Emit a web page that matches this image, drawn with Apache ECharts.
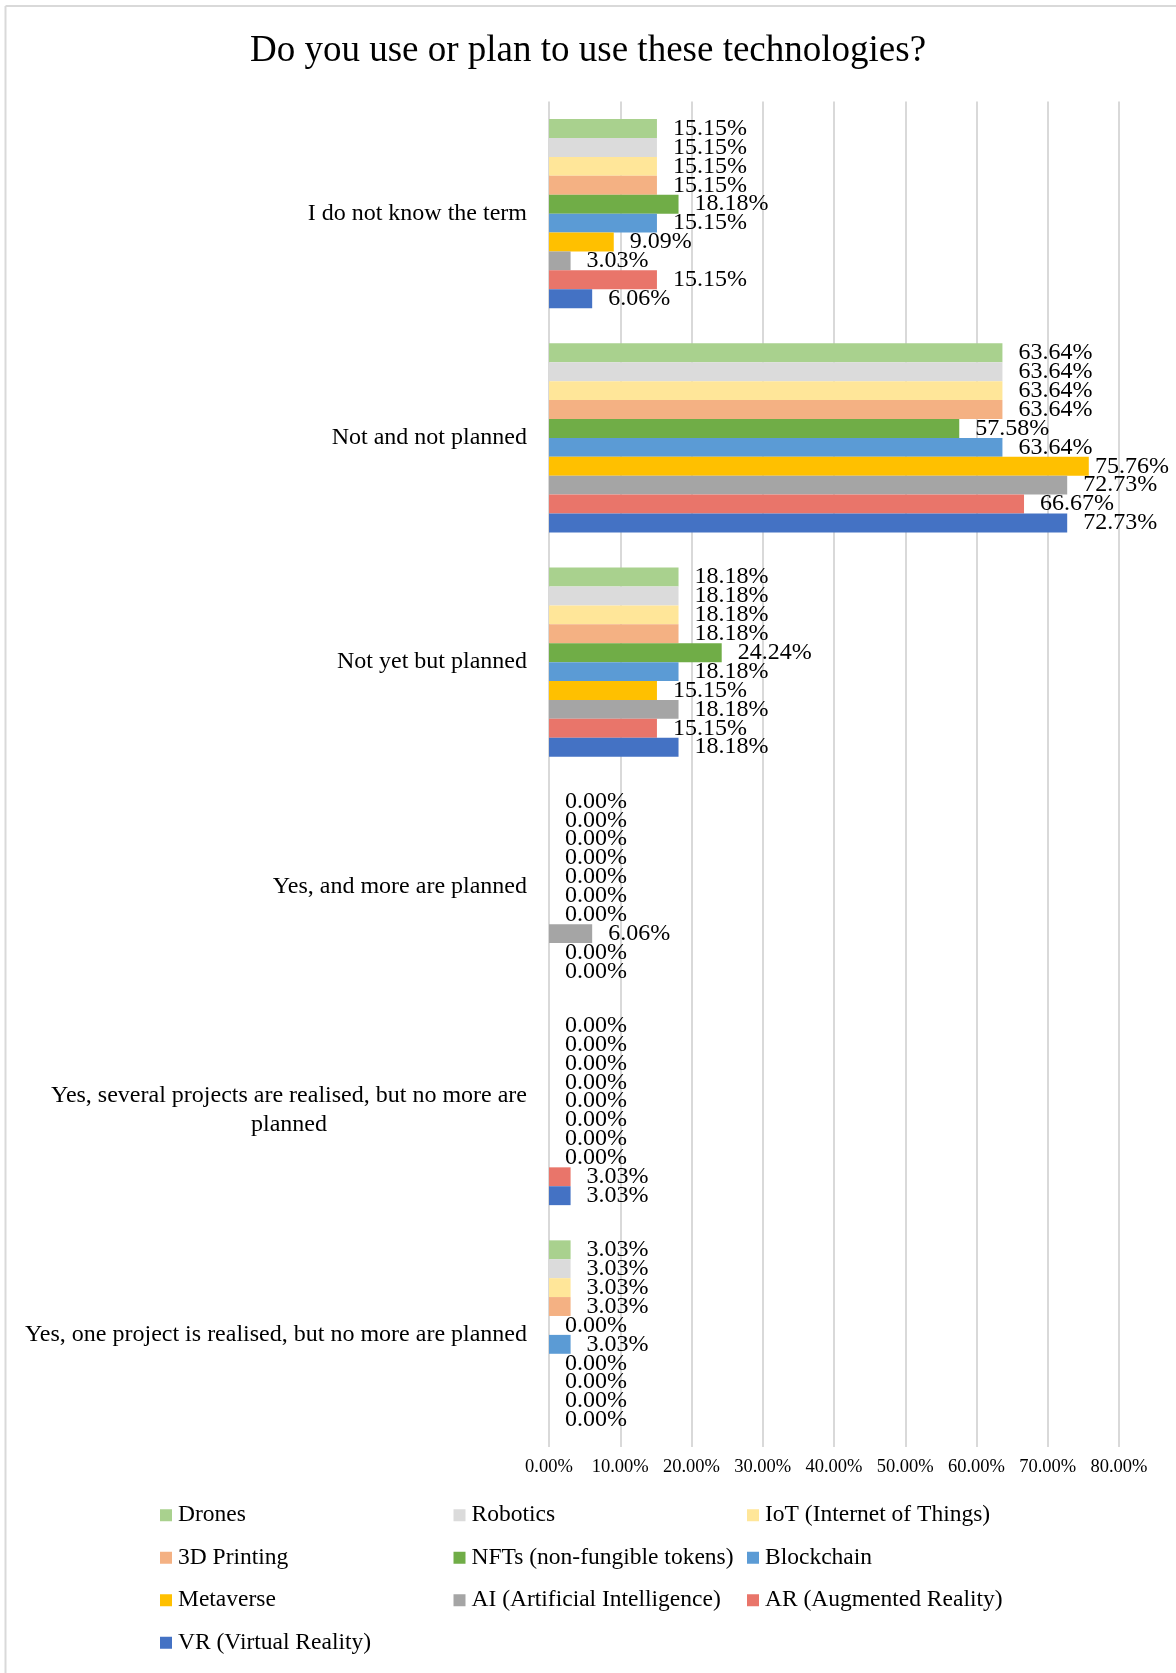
<!DOCTYPE html>
<html>
<head>
<meta charset="utf-8">
<script src="https://cdn.jsdelivr.net/npm/echarts@6/dist/echarts.min.js"></script>
<style>
  html, body { margin: 0; padding: 0; background: #fff; }
  #chart { width: 1176px; height: 1673px; }
</style>
</head>
<body>
<div id="chart"></div>
<script>
const categories = [
  'I do not know the term',
  'Not and not planned',
  'Not yet but planned',
  'Yes, and more are planned',
  'Yes, several projects are realised, but no more are planned',
  'Yes, one project is realised, but no more are planned'
];
const seriesNames = [
  'Drones', 'Robotics', 'IoT (Internet of Things)', '3D Printing',
  'NFTs (non-fungible tokens)', 'Blockchain', 'Metaverse',
  'AI (Artificial Intelligence)', 'AR (Augmented Reality)', 'VR (Virtual Reality)'
];
const drones     = [15.15, 63.64, 18.18, 0.00, 0.00, 3.03];
const robotics   = [15.15, 63.64, 18.18, 0.00, 0.00, 3.03];
const iot        = [15.15, 63.64, 18.18, 0.00, 0.00, 3.03];
const printing3d = [15.15, 63.64, 18.18, 0.00, 0.00, 3.03];
const nfts       = [18.18, 57.58, 24.24, 0.00, 0.00, 0.00];
const blockchain = [15.15, 63.64, 18.18, 0.00, 0.00, 3.03];
const metaverse  = [9.09, 75.76, 15.15, 0.00, 0.00, 0.00];
const ai         = [3.03, 72.73, 18.18, 6.06, 0.00, 0.00];
const ar         = [15.15, 66.67, 15.15, 0.00, 3.03, 0.00];
const vr         = [6.06, 72.73, 18.18, 0.00, 3.03, 0.00];
const seriesValues = [drones, robotics, iot, printing3d, nfts, blockchain, metaverse, ai, ar, vr];
const seriesColors = ['#A9D18E', '#DBDBDB', '#FFE699', '#F4B183', '#70AD47',
                      '#5B9BD5', '#FFC000', '#A5A5A5', '#E9756A', '#4472C4'];
const xTicks = { min: 0, max: 80, interval: 10 };

const FONT = '"Liberation Serif", "Times New Roman", serif';
const RIGHT_LIMIT = 1169;
const chart = echarts.init(document.getElementById('chart'), null, { renderer: 'canvas' });

const series = seriesNames.map((name, i) => ({
  name: name,
  type: 'bar',
  data: seriesValues[i],
  barGap: '0%',
  barCategoryGap: '15.7%',
  itemStyle: { color: seriesColors[i] },
  label: {
    show: true,
    position: 'right',
    distance: 16,
    fontFamily: FONT,
    fontSize: 24,
    color: '#000',
    formatter: p => p.value.toFixed(2) + '%'
  },
  labelLayout: params => {
    const r = params.labelRect;
    if (r.x + r.width > RIGHT_LIMIT) {
      return {
        x: RIGHT_LIMIT - r.width,
        y: r.y + r.height / 2,
        align: 'left',
        verticalAlign: 'middle'
      };
    }
    return {};
  },
  emphasis: { disabled: true }
}));

chart.setOption({
  animation: false,
  backgroundColor: '#fff',
  title: {
    text: 'Do you use or plan to use these technologies?',
    left: 'center',
    top: 28,
    textStyle: { fontFamily: FONT, fontSize: 37, fontWeight: 'normal', color: '#000' }
  },
  legend: {
    data: seriesNames,
    left: 160,
    top: 1494,
    width: 885,
    padding: 0,
    itemGap: 0,
    itemWidth: 12,
    itemHeight: 12,
    icon: 'rect',
    textStyle: {
      fontFamily: FONT, fontSize: 23.5, color: '#000',
      width: 275.5, lineHeight: 42.5, padding: [0, 0, 0, 1]
    }
  },
  grid: { left: 549, right: 57, top: 101.5, bottom: 226, containLabel: false, outerBoundsMode: 'none' },
  xAxis: {
    type: 'value',
    min: xTicks.min,
    max: xTicks.max,
    interval: xTicks.interval,
    axisLine: { show: false },
    axisTick: { show: false },
    splitLine: { show: true, lineStyle: { color: '#D9D9D9', width: 2 } },
    axisLabel: {
      fontFamily: FONT, fontSize: 18.5, color: '#000', margin: 11,
      formatter: v => v.toFixed(2) + '%'
    }
  },
  yAxis: {
    type: 'category',
    data: categories,
    inverse: true,
    axisLine: { show: false },
    axisTick: { show: false },
    axisLabel: {
      margin: 22,
      align: 'right',
      fontFamily: FONT, fontSize: 24, color: '#000',
      formatter: v => {
        const text = v === categories[4] ? v.replace(/ planned$/, '\nplanned') : v;
        return text.split('\n').map(l => '{c|' + l + '}').join('\n');
      },
      rich: { c: { align: 'center', fontFamily: FONT, fontSize: 24, lineHeight: 29, color: '#000' } }
    }
  },
  graphic: [
    { type: 'line', shape: { x1: 5.5, y1: 6, x2: 5.5, y2: 1673 }, style: { stroke: '#D9D9D9', lineWidth: 2 }, silent: true },
    { type: 'line', shape: { x1: 5.5, y1: 6, x2: 1176, y2: 6 }, style: { stroke: '#D9D9D9', lineWidth: 2 }, silent: true }
  ],
  series: series
});
</script>
</body>
</html>
